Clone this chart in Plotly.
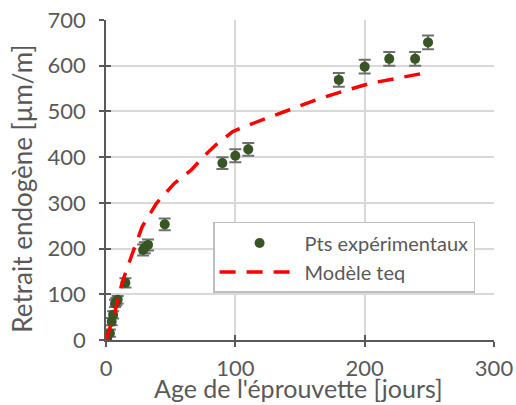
import plotly.graph_objects as go

# Experimental points
exp_age = [1, 3, 4.4, 5.5, 7, 8, 9, 15, 28.7, 30, 32.5, 45.4, 90, 100, 110, 180, 200, 219, 239, 249]
exp_val = [0, 15, 40, 55, 80, 84, 88, 125, 197, 202, 208, 253, 387, 403, 417, 569, 598, 615, 615, 651]
exp_err = [8, 8, 8, 8, 8, 8, 8, 10, 12, 12, 12, 13, 13, 14, 14, 15, 15, 15, 15, 15]

# Model curve
mod_age = [0, 3, 7, 10, 14, 20, 28, 39, 53, 66, 75, 85, 98, 110, 124, 144, 162, 182, 205, 226, 250]
mod_val = [0, 25, 62, 100, 138, 186, 248, 299, 343, 372, 400, 427, 456, 470, 485, 507, 525, 543, 562, 573, 586]

x_ticks = [0, 100, 200, 300]
y_ticks = [0, 100, 200, 300, 400, 500, 600, 700]

x_title = "Age de l'éprouvette [jours]"
y_title = "Retrait endogène [µm/m]"

font = "Lato, 'Open Sans', sans-serif"
axis_col = "#595959"

fig = go.Figure()
fig.add_trace(go.Scatter(
    x=exp_age, y=exp_val, mode="markers", name="Pts expérimentaux",
    marker=dict(color="#375623", size=10),
    error_y=dict(type="data", array=exp_err, color="#707070", thickness=2, width=6),
))
fig.add_trace(go.Scatter(
    x=mod_age, y=mod_val, mode="lines", name="Modèle teq",
    line=dict(color="#ff0000", width=3.5, dash="16px,11px"),
))

fig.update_layout(
    width=516, height=405,
    margin=dict(l=106, r=22, t=20, b=65),
    paper_bgcolor="white", plot_bgcolor="white",
    font=dict(family=font, color=axis_col, size=22),
    showlegend=True,
    legend=dict(
        x=0.276, y=0.369, xanchor="left", yanchor="top",
        bgcolor="white", bordercolor="#bfbfbf", borderwidth=1.5,
        font=dict(size=20, color=axis_col), itemwidth=80,
        tracegroupgap=0,
    ),
    xaxis=dict(
        range=[0, 300], tickvals=x_ticks, showgrid=True, gridcolor="#d9d9d9", gridwidth=1.5,
        showline=True, linecolor=axis_col, linewidth=1.5, ticks="outside", ticklen=5,
        tickcolor=axis_col, tickwidth=1.5, zeroline=False, automargin=False,
        ticklabelstandoff=3, ticklabeloverflow="allow",
        tickfont=dict(size=22),
    ),
    yaxis=dict(
        range=[0, 700], tickvals=y_ticks, showgrid=True, gridcolor="#d9d9d9", gridwidth=1.5,
        showline=True, linecolor=axis_col, linewidth=1.5, ticks="outside", ticklen=5,
        tickcolor=axis_col, tickwidth=1.5, zeroline=False, automargin=False,
        ticklabelstandoff=9, ticklabeloverflow="allow",
        tickfont=dict(size=22),
    ),
    xaxis2=dict(range=[0, 300], tickvals=x_ticks, overlaying="x", ticks="inside", ticklen=5,
                tickcolor=axis_col, tickwidth=1.5, showticklabels=False, showgrid=False,
                zeroline=False, showline=False, anchor="y", automargin=False),
    yaxis2=dict(range=[0, 700], tickvals=y_ticks, overlaying="y", ticks="inside", ticklen=5,
                tickcolor=axis_col, tickwidth=1.5, showticklabels=False, showgrid=False,
                zeroline=False, showline=False, anchor="x", automargin=False),
    annotations=[
        dict(text=x_title, xref="paper", yref="paper", x=0.496, y=0, xanchor="center",
             yanchor="bottom", yshift=-65, showarrow=False, font=dict(size=25, color=axis_col)),
        dict(text=y_title, xref="paper", yref="paper", x=0, y=0.473, xanchor="center",
             yanchor="middle", xshift=-84, textangle=-90, showarrow=False,
             font=dict(size=26, color=axis_col)),
    ],
)
# invisible trace to activate the overlay axes
fig.add_trace(go.Scatter(x=[None], y=[None], xaxis="x2", yaxis="y2", showlegend=False, hoverinfo="skip"))

fig.write_html("out.html", post_script="document.body.style.margin='0';",
               config={"displayModeBar": False})
